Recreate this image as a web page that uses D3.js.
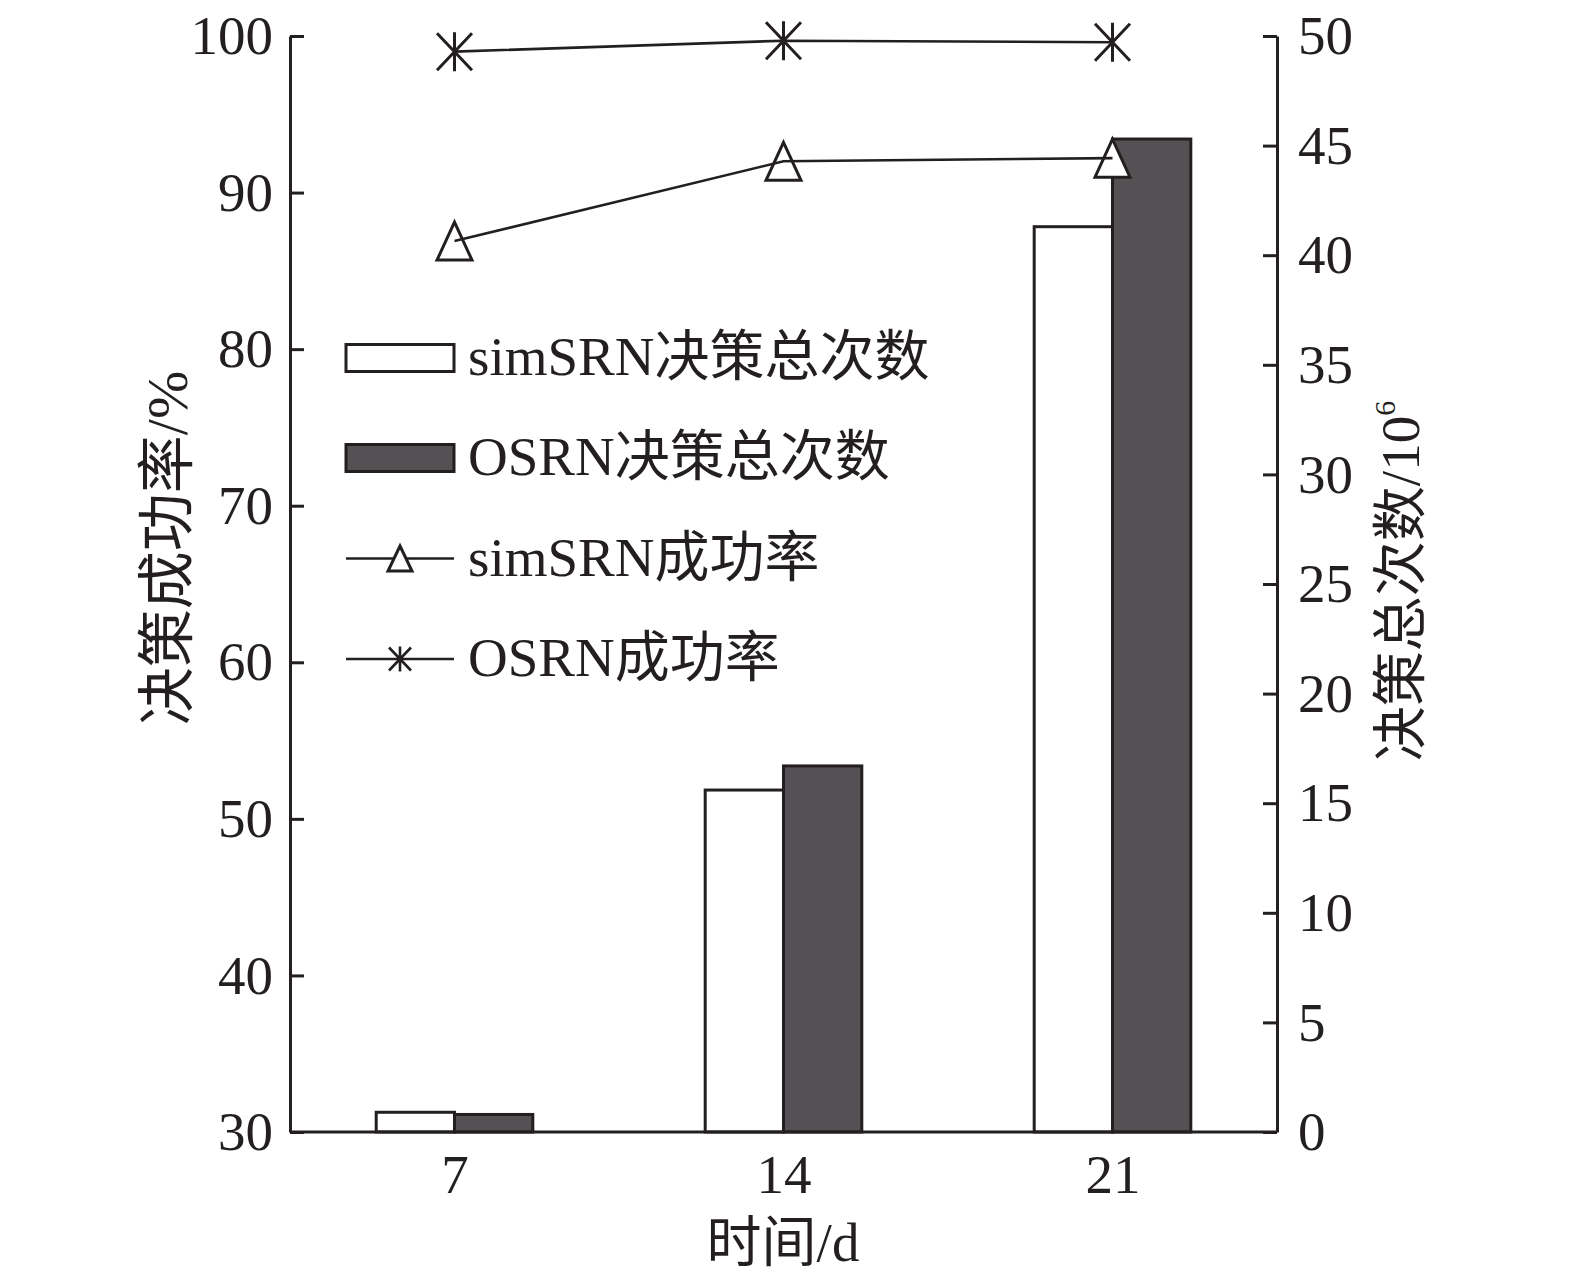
<!DOCTYPE html>
<html>
<head>
<meta charset="utf-8">
<script src="https://cdn.jsdelivr.net/npm/d3@7"></script>
<style>
  html, body { margin: 0; padding: 0; background: #fff; }
  svg { display: block; }
  text { font-family: "Liberation Serif", "Noto Sans CJK SC", serif; fill: #231f20; }
</style>
</head>
<body>
<svg id="chart" width="1575" height="1281"></svg>
<script>
// ---- data ----
const categories = ["7", "14", "21"];
const simSRNCount = [0.9, 15.6, 41.3];     // 10^6
const osrnCount = [0.8, 16.7, 45.3];       // 10^6
const simSRNRate = [86.9, 92.0, 92.2];     // %
const osrnRate = [99.0, 99.7, 99.6];       // %
const leftTicks = [30, 40, 50, 60, 70, 80, 90, 100];
const rightTicks = [0, 5, 10, 15, 20, 25, 30, 35, 40, 45, 50];
const legendLabels = ["simSRN决策总次数", "OSRN决策总次数", "simSRN成功率", "OSRN成功率"];

const ink = "#231f20";
const darkFill = "#535153";

const svg = d3.select("#chart");
const pLeft = 290, pRight = 1277, pTop = 36, pBottom = 1132;

const x = d3.scalePoint().domain(categories).range([pLeft, pRight]).padding(0.5);
const yL = d3.scaleLinear().domain([30, 100]).range([pBottom, pTop]);
const yR = d3.scaleLinear().domain([0, 50]).range([pBottom, pTop]);
const barW = x.step() * 0.238;

// ---- bars ----
const g = svg.append("g");
g.selectAll("rect.sim").data(categories).join("rect")
  .attr("class", "sim")
  .attr("x", (d) => x(d) - barW)
  .attr("y", (d, i) => yR(simSRNCount[i]))
  .attr("width", barW)
  .attr("height", (d, i) => pBottom - yR(simSRNCount[i]))
  .attr("fill", "#fff").attr("stroke", ink).attr("stroke-width", 3);
g.selectAll("rect.osrn").data(categories).join("rect")
  .attr("class", "osrn")
  .attr("x", (d) => x(d))
  .attr("y", (d, i) => yR(osrnCount[i]))
  .attr("width", barW)
  .attr("height", (d, i) => pBottom - yR(osrnCount[i]))
  .attr("fill", darkFill).attr("stroke", ink).attr("stroke-width", 3);

// ---- axes ----
const axL = svg.append("g").attr("transform", `translate(${pLeft},0)`)
  .call(d3.axisLeft(yL).tickValues(leftTicks).tickSizeInner(-14).tickSizeOuter(0).tickPadding(17));
const axR = svg.append("g").attr("transform", `translate(${pRight},0)`)
  .call(d3.axisRight(yR).tickValues(rightTicks).tickSizeInner(-14).tickSizeOuter(0).tickPadding(21));
const axB = svg.append("g").attr("transform", `translate(0,${pBottom})`)
  .call(d3.axisBottom(x).tickSize(0).tickPadding(22));
axB.select(".domain").attr("d", `M${pLeft},0H${pRight}`);
[axL, axR, axB].forEach((a) => {
  a.select(".domain").attr("stroke", ink).attr("stroke-width", 3);
  a.selectAll(".tick line").attr("stroke", ink).attr("stroke-width", 3);
  a.selectAll(".tick text").attr("font-size", 55).attr("fill", ink)
    .attr("font-family", '"Liberation Serif", serif');
});

// ---- markers helpers ----
function triPath(w, h) {
  return `M0,${-h / 2}L${w / 2},${h / 2}L${-w / 2},${h / 2}Z`;
}
function starPath(w, h) {
  return `M0,${-h / 2}V${h / 2}M${-w / 2},${-h / 2 + 1}L${w / 2},${h / 2 - 1}M${w / 2},${-h / 2 + 1}L${-w / 2},${h / 2 - 1}`;
}

// ---- lines ----
const line = d3.line().x((d) => d[0]).y((d) => d[1]);
const simPts = categories.map((c, i) => [x(c), yL(simSRNRate[i])]);
const osPts = categories.map((c, i) => [x(c), yL(osrnRate[i])]);

svg.selectAll("path.tri").data(simPts).join("path").attr("class", "tri")
  .attr("transform", (d) => `translate(${d[0]},${d[1]})`)
  .attr("d", triPath(35, 38)).attr("fill", "#fff").attr("stroke", ink).attr("stroke-width", 3);
svg.append("path").attr("d", line(simPts)).attr("fill", "none").attr("stroke", ink).attr("stroke-width", 2.6);

svg.append("path").attr("d", line(osPts)).attr("fill", "none").attr("stroke", ink).attr("stroke-width", 2.6);
svg.selectAll("path.star").data(osPts).join("path").attr("class", "star")
  .attr("transform", (d) => `translate(${d[0]},${d[1]})`)
  .attr("d", starPath(35, 39)).attr("fill", "none").attr("stroke", ink).attr("stroke-width", 3);

// ---- legend ----
const legY = [358, 458, 558.5, 659];
const lx0 = 346, lx1 = 454;
const leg = svg.append("g");
leg.append("rect").attr("x", lx0).attr("y", legY[0] - 13.5).attr("width", lx1 - lx0).attr("height", 27)
  .attr("fill", "#fff").attr("stroke", ink).attr("stroke-width", 3);
leg.append("rect").attr("x", lx0).attr("y", legY[1] - 13.5).attr("width", lx1 - lx0).attr("height", 27)
  .attr("fill", darkFill).attr("stroke", ink).attr("stroke-width", 3);
leg.append("line").attr("x1", lx0).attr("x2", lx1).attr("y1", legY[2]).attr("y2", legY[2])
  .attr("stroke", ink).attr("stroke-width", 2.6);
leg.append("path").attr("transform", `translate(${(lx0 + lx1) / 2},${legY[2]})`)
  .attr("d", triPath(24, 25)).attr("fill", "#fff").attr("stroke", ink).attr("stroke-width", 3);
leg.append("line").attr("x1", lx0).attr("x2", lx1).attr("y1", legY[3]).attr("y2", legY[3])
  .attr("stroke", ink).attr("stroke-width", 2.6);
leg.append("path").attr("transform", `translate(${(lx0 + lx1) / 2},${legY[3]})`)
  .attr("d", starPath(22, 25)).attr("fill", "none").attr("stroke", ink).attr("stroke-width", 2.6);
leg.selectAll("text").data(legendLabels).join("text")
  .attr("x", 468).attr("y", (d, i) => legY[i] + 17)
  .attr("font-size", 55).text((d) => d);

// ---- axis titles ----
svg.append("text").attr("x", 783).attr("y", 1261).attr("text-anchor", "middle")
  .attr("font-size", 55).text("时间/d");
svg.append("text").attr("transform", "translate(187,548) rotate(-90)")
  .attr("text-anchor", "middle").attr("font-size", 58).text("决策成功率/%");
const rt = svg.append("text").attr("transform", "translate(1419,581) rotate(-90)")
  .attr("text-anchor", "middle").attr("font-size", 55);
rt.append("tspan").text("决策总次数/10");
rt.append("tspan").attr("font-size", 30).attr("dy", -24).text("6");
</script>
</body>
</html>
